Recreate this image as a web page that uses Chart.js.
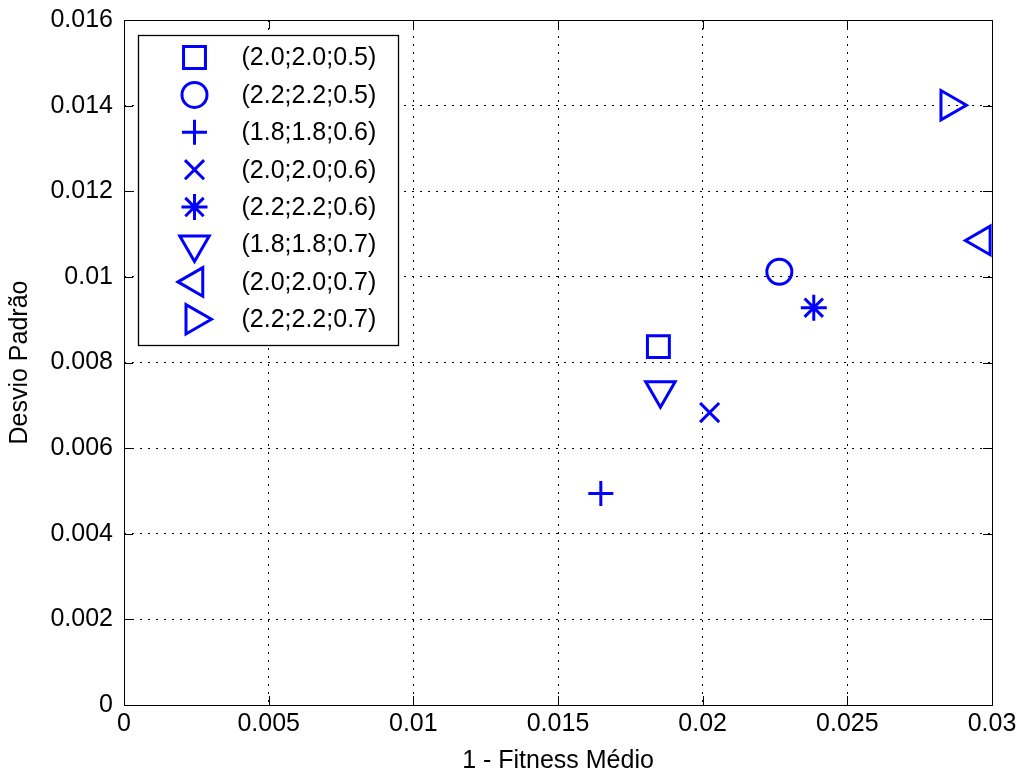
<!DOCTYPE html>
<html>
<head>
<meta charset="utf-8">
<title>Desvio Padrão x 1 - Fitness Médio</title>
<script src="https://cdn.jsdelivr.net/npm/chart.js@4.4.1/dist/chart.umd.min.js"></script>
<style>
  html, body { margin: 0; padding: 0; background: #fff; }
  #wrap { width: 1023px; height: 776px; }
</style>
</head>
<body>
<div id="wrap"><canvas id="myChart" width="1023" height="776"></canvas></div>
<script>
// (a;b;c) parameter sets, one point each
const seriesLabels = ['(2.0;2.0;0.5)', '(2.2;2.2;0.5)', '(1.8;1.8;0.6)', '(2.0;2.0;0.6)',
                      '(2.2;2.2;0.6)', '(1.8;1.8;0.7)', '(2.0;2.0;0.7)', '(2.2;2.2;0.7)'];
const fitnessMedio = [0.01847, 0.02265, 0.01648, 0.02024, 0.02384, 0.01854, 0.02965, 0.02853]; // 1 - fitness
const desvioPadrao = [0.00837, 0.01012, 0.00494, 0.00683, 0.00928, 0.00735, 0.01085, 0.01401];

const xTickLabels = ['0', '0.005', '0.01', '0.015', '0.02', '0.025', '0.03'];
const yTickLabels = ['0', '0.002', '0.004', '0.006', '0.008', '0.01', '0.012', '0.014', '0.016'];

// marker look (matlab style: s o + x * v < >)
const markerStyles = ['rect', 'circle', 'cross', 'crossRot', 'star', 'triangle', 'triangle', 'triangle'];
const markerRotation = [0, 0, 0, 0, 0, 180, -90, 90];
const markerRadius = [15.5, 12.5, 12.5, 13.5, 13, 17, 16.5, 17];

const BLUE = '#0000ff';
const FONT = 'Liberation Sans, Arial, sans-serif';

Chart.defaults.font.family = FONT;
Chart.defaults.font.size = 25;
Chart.defaults.color = '#000';

const datasets = seriesLabels.map((lbl, i) => ({
    label: lbl,
    data: [{x: fitnessMedio[i], y: desvioPadrao[i]}],
    pointStyle: markerStyles[i],
    pointRotation: markerRotation[i],
    pointRadius: markerRadius[i],
    pointHoverRadius: markerRadius[i],
    pointBorderWidth: 3,
    pointHoverBorderWidth: 3,
    pointBorderColor: BLUE,
    pointBackgroundColor: 'rgba(0,0,0,0)',
    borderColor: BLUE,
    showLine: false,
    clip: false
}));

// box around axes + inward ticks like matlab
const axesBox = {
    id: 'axesBox',
    afterDatasetsDraw(chart) {
        const {ctx, chartArea: a, scales} = chart;
        ctx.save();
        ctx.strokeStyle = '#000';
        ctx.lineWidth = 1;
        ctx.setLineDash([]);
        const tl = 9;
        ctx.beginPath();
        scales.x.ticks.forEach(t => {
            const px = Math.round(scales.x.getPixelForValue(t.value)) + 0.5;
            ctx.moveTo(px, a.bottom); ctx.lineTo(px, a.bottom - tl);
            ctx.moveTo(px, a.top); ctx.lineTo(px, a.top + tl);
        });
        scales.y.ticks.forEach(t => {
            const py = Math.round(scales.y.getPixelForValue(t.value)) + 0.5;
            ctx.moveTo(a.left, py); ctx.lineTo(a.left + tl, py);
            ctx.moveTo(a.right, py); ctx.lineTo(a.right - tl, py);
        });
        ctx.stroke();
        ctx.strokeRect(Math.round(a.left) + 0.5, Math.round(a.top) + 0.5,
                       Math.round(a.right - a.left), Math.round(a.bottom - a.top));
        ctx.restore();
    }
};

// legend drawn inside the axes, top left
const insideLegend = {
    id: 'insideLegend',
    afterDraw(chart) {
        const {ctx, chartArea: a} = chart;
        const x0 = Math.round(a.left) + 14.5, y0 = Math.round(a.top) + 15.5;
        const w = 260, h = 310, rowH = 37.4;
        ctx.save();
        ctx.fillStyle = '#fff';
        ctx.fillRect(x0, y0, w, h);
        ctx.strokeStyle = '#000';
        ctx.lineWidth = 1.3;
        ctx.strokeRect(x0, y0, w, h);
        chart.data.datasets.forEach((ds, i) => {
            const cy = y0 + 22 + i * rowH;
            ctx.strokeStyle = ds.pointBorderColor;
            ctx.fillStyle = 'rgba(0,0,0,0)';
            ctx.lineWidth = ds.pointBorderWidth;
            Chart.helpers.drawPoint(ctx, {
                pointStyle: ds.pointStyle,
                rotation: ds.pointRotation,
                radius: ds.pointRadius,
                borderWidth: ds.pointBorderWidth
            }, x0 + 56, cy);
            ctx.fillStyle = '#000';
            ctx.font = '25px ' + FONT;
            ctx.textBaseline = 'middle';
            ctx.textAlign = 'left';
            ctx.fillText(ds.label, x0 + 103, cy + 1);
        });
        ctx.restore();
    }
};

const config = {
    type: 'scatter',
    data: { datasets: datasets },
    options: {
        responsive: false,
        animation: false,
        events: [],
        layout: { padding: { top: 18, right: 31, left: 0, bottom: 0 } },
        plugins: {
            legend: { display: false },
            tooltip: { enabled: false }
        },
        scales: {
            x: {
                type: 'linear',
                min: 0,
                max: 0.03,
                afterFit: s => { s.height = 71; s.paddingLeft = 0; s.paddingRight = 0; },
                ticks: {
                    stepSize: 0.005,
                    padding: 4,
                    color: '#000',
                    maxRotation: 0,
                    callback: (v, i) => xTickLabels[i]
                },
                grid: { color: '#000', lineWidth: 1, drawTicks: false },
                border: { display: false, dash: [2, 6] },
                title: {
                    display: true,
                    text: '1 - Fitness Médio',
                    color: '#000',
                    padding: { top: 0, bottom: 0 }
                }
            },
            y: {
                type: 'linear',
                min: 0,
                max: 0.016,
                afterFit: s => { s.width = 124; s.paddingTop = 0; s.paddingBottom = 0; },
                ticks: {
                    stepSize: 0.002,
                    padding: 11,
                    color: '#000',
                    callback: (v, i) => yTickLabels[i]
                },
                grid: { color: '#000', lineWidth: 1, drawTicks: false },
                border: { display: false, dash: [2, 6] },
                title: {
                    display: true,
                    text: 'Desvio Padrão',
                    color: '#000',
                    padding: { top: 5, bottom: 0 }
                }
            }
        }
    },
    plugins: [axesBox, insideLegend]
};

const myChart = new Chart(document.getElementById('myChart').getContext('2d'), config);
</script>
</body>
</html>
